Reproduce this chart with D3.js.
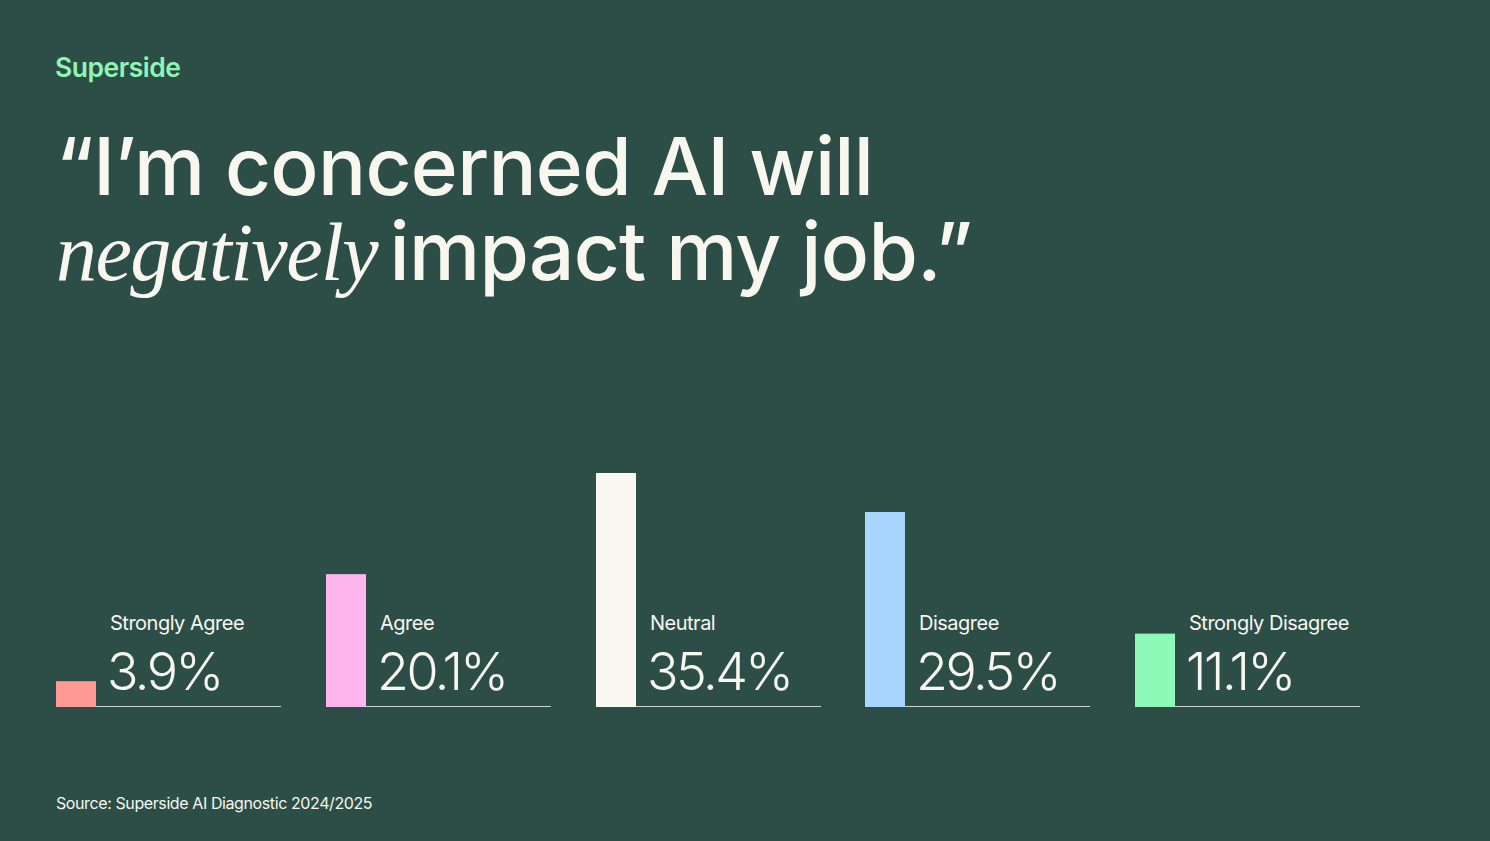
<!DOCTYPE html>
<html><head><meta charset="utf-8">
<script src="https://cdn.jsdelivr.net/npm/d3@7"></script>
<style>
html,body{margin:0;padding:0;background:#2c4e47;}
svg{display:block;}
</style></head>
<body>
<script>
const categories = ["Strongly Agree","Agree","Neutral","Disagree","Strongly Disagree"];
const values = [3.9, 20.1, 35.4, 29.5, 11.1];
const valueLabels = ["3.9%","20.1%","35.4%","29.5%","11.1%"];
const colors = ["#ff9b96","#ffb5ee","#f8f8f1","#a8d6ff","#8efab8"];

const W = 1490, H = 841;
const bg = "#2c4e47", fg = "#f7f7f0";
const svg = d3.select("body").append("svg").attr("width", W).attr("height", H);
svg.append("rect").attr("width", W).attr("height", H).attr("fill", bg);

// Logo
svg.append("text").attr("x", 55).attr("y", 77)
  .attr("font-family", "Inter").attr("font-weight", 600).attr("font-size", 26.5)
  .attr("letter-spacing", -0.5)
  .attr("fill", "#8ef5b5").text("Superside");

// Title
svg.append("text").attr("x", 56).attr("y", 195)
  .attr("font-family", "Inter").attr("font-weight", 500).attr("font-size", 80)
  .attr("letter-spacing", -0.7).attr("fill", fg)
  .text("\u201CI\u2019m concerned AI will");
const t2 = svg.append("text").attr("x", 56).attr("y", 280)
  .attr("font-size", 80).attr("fill", fg);
t2.append("tspan").attr("font-family", "Liberation Serif").attr("font-style", "italic")
  .attr("font-size", 82).attr("letter-spacing", -1.6).text("negatively");
t2.append("tspan").attr("font-family", "Inter").attr("font-weight", 500)
  .attr("dx", -8)
  .attr("letter-spacing", -0.7).text(" impact my job.\u201D");

// Chart
const baseY = 707;
const x = d3.scalePoint().domain(categories).range([56, 1135]);
const y = d3.scaleLinear().domain([0, 35.4]).range([baseY, 473]);
const barW = 40, lineW = 185;

const g = svg.append("g");
const groups = g.selectAll("g.cat").data(categories).join("g")
  .attr("class", "cat").attr("transform", d => `translate(${Math.round(x(d))},0)`);

groups.append("rect")
  .attr("x", 0).attr("width", barW)
  .attr("y", (d, i) => y(values[i]))
  .attr("height", (d, i) => baseY - y(values[i]))
  .attr("fill", (d, i) => colors[i]);

groups.append("line")
  .attr("x1", barW).attr("x2", barW + lineW)
  .attr("y1", baseY - 0.5).attr("y2", baseY - 0.5)
  .attr("stroke", "#c9d2cc").attr("stroke-width", 1);

groups.append("text")
  .attr("x", barW + 14).attr("y", 630)
  .attr("font-family", "Inter").attr("font-weight", 400).attr("font-size", 20)
  .attr("letter-spacing", -0.5)
  .attr("fill", fg).text(d => d);

groups.append("text")
  .attr("x", barW + 11).attr("y", 690)
  .attr("font-family", "Inter").attr("font-weight", 300).attr("font-size", 52)
  .attr("letter-spacing", -2.5)
  .attr("fill", fg).text((d, i) => valueLabels[i]);

// Source
svg.append("text").attr("x", 56).attr("y", 809)
  .attr("font-family", "Inter").attr("font-size", 16).attr("letter-spacing", -0.4)
  .attr("fill", fg).text("Source: Superside AI Diagnostic 2024/2025");
</script>
</body></html>
